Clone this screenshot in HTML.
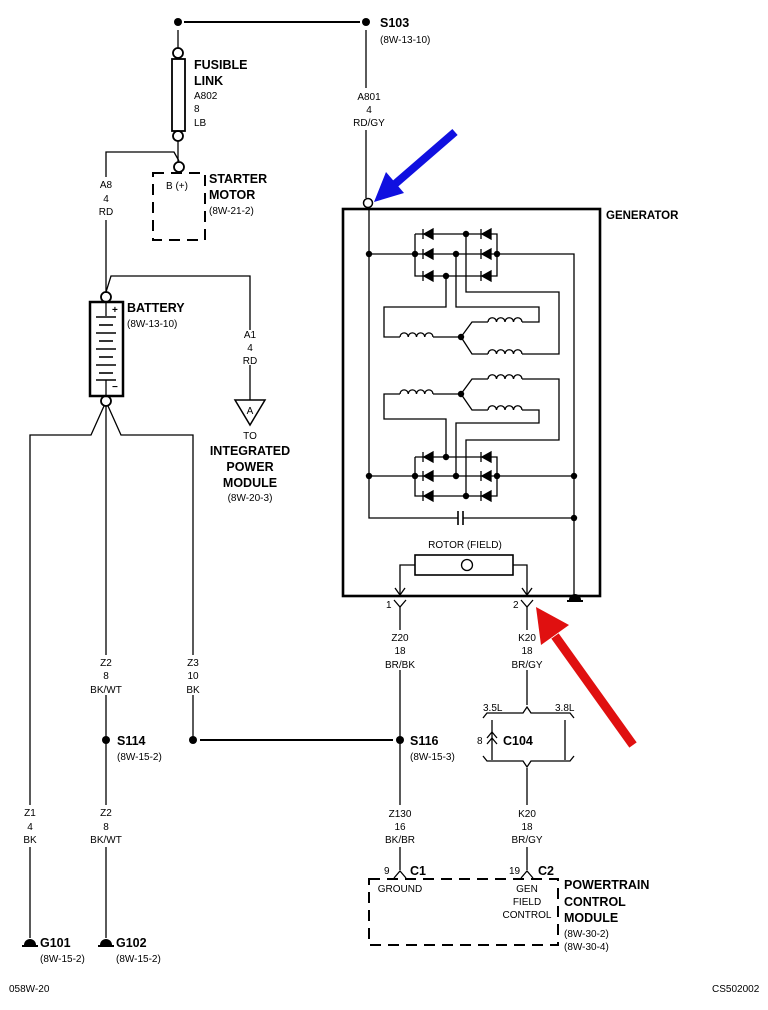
<!DOCTYPE html>
<html><head><meta charset="utf-8"><style>
html,body{margin:0;padding:0;background:#fff;}
svg{display:block;}
text{font-family:"Liberation Sans",sans-serif;fill:#000;}
.s{font-size:10px;}
.b{font-size:12.5px;font-weight:bold;}
.c{text-anchor:middle;}
</style></head><body>
<svg width="768" height="1010" viewBox="0 0 768 1010" xmlns="http://www.w3.org/2000/svg">
<g stroke="#000" stroke-width="1.3" fill="none">
<line x1="184" y1="22" x2="360" y2="22" stroke-width="2"/>
<line x1="178" y1="30" x2="178" y2="48"/>
<circle cx="178" cy="53" r="5" stroke-width="1.8"/>
<rect x="172" y="59" width="13" height="72" stroke-width="1.8"/>
<circle cx="178" cy="136" r="5" stroke-width="1.8"/>
<line x1="178" y1="141" x2="178" y2="162"/>
<polyline points="106,177 106,152 174,152 179,161"/>
<line x1="106" y1="220" x2="106" y2="293"/>
<circle cx="179" cy="167" r="5" stroke-width="1.8"/>
<rect x="153" y="173" width="52" height="67" stroke-width="2" stroke-dasharray="11,7"/>
<circle cx="106" cy="297" r="5" stroke-width="1.8"/>
<rect x="90" y="302" width="33" height="94" stroke-width="2.5"/>
<line x1="106" y1="302" x2="106" y2="316"/>
<line x1="106" y1="380" x2="106" y2="396"/>
<g stroke-width="1.6">
<line x1="96" y1="317" x2="116" y2="317"/>
<line x1="99" y1="325" x2="113" y2="325"/>
<line x1="96" y1="333" x2="116" y2="333"/>
<line x1="99" y1="341" x2="113" y2="341"/>
<line x1="96" y1="349" x2="116" y2="349"/>
<line x1="99" y1="357" x2="113" y2="357"/>
<line x1="96" y1="365" x2="116" y2="365"/>
<line x1="99" y1="373" x2="113" y2="373"/>
<line x1="96" y1="380" x2="116" y2="380"/>
</g>
<circle cx="106" cy="401" r="5" stroke-width="1.8"/>
<polyline points="106,292 111,276 250,276 250,330"/>
<line x1="250" y1="365" x2="250" y2="400"/>
<polygon points="235,400 265,400 250,425" stroke-width="1.5"/>
<polyline points="104,406 91,435 30,435 30,805"/>
<line x1="30" y1="847" x2="30" y2="938"/>
<polyline points="108,406 121,435 193,435 193,655"/>
<line x1="193" y1="695" x2="193" y2="740"/>
<line x1="106" y1="406" x2="106" y2="655"/>
<line x1="106" y1="695" x2="106" y2="805"/>
<line x1="106" y1="847" x2="106" y2="938"/>
<line x1="200" y1="740" x2="393" y2="740" stroke-width="2"/>
<line x1="366" y1="30" x2="366" y2="88"/>
<line x1="366" y1="130" x2="366" y2="198"/>
<circle cx="368" cy="203" r="4.5" stroke-width="1.5"/>
<rect x="343" y="209" width="257" height="387" stroke-width="2.6"/>
<polyline points="369,207 369,518 458,518"/>
<polyline points="463,518 574,518"/>
<line x1="458" y1="511" x2="458" y2="525" stroke-width="1.6"/>
<line x1="463" y1="511" x2="463" y2="525" stroke-width="1.6"/>
<polyline points="369,254 497,254"/>
<polyline points="497,254 574,254 574,600"/>
<polyline points="415,234 497,234 497,276 415,276 415,234"/>
<line x1="369" y1="476" x2="574" y2="476"/>
<polyline points="415,457 497,457 497,496 415,496 415,457"/>
<polyline points="446,276 446,307 384,307 384,337 400,337"/>
<polyline points="433,337 461,337 472,322 488,322"/>
<polyline points="461,337 472,354 488,354"/>
<polyline points="456,254 456,307 539,307 539,322 522,322"/>
<polyline points="466,234 466,292 559,292 559,354 522,354"/>
<path d="M400,337 a4.1,4.1 0 0 1 8.25,0 a4.1,4.1 0 0 1 8.25,0 a4.1,4.1 0 0 1 8.25,0 a4.1,4.1 0 0 1 8.25,0"/>
<path d="M488,322 a4.1,4.1 0 0 1 8.5,0 a4.1,4.1 0 0 1 8.5,0 a4.1,4.1 0 0 1 8.5,0 a4.1,4.1 0 0 1 8.5,0"/>
<path d="M488,354 a4.1,4.1 0 0 1 8.5,0 a4.1,4.1 0 0 1 8.5,0 a4.1,4.1 0 0 1 8.5,0 a4.1,4.1 0 0 1 8.5,0"/>
<polyline points="433,394 461,394 472,379 488,379"/>
<polyline points="461,394 472,410 488,410"/>
<polyline points="400,394 384,394 384,419 446,419 446,457"/>
<polyline points="522,379 559,379 559,440 466,440 466,496"/>
<polyline points="522,410 539,410 539,423 456,423 456,476"/>
<path d="M400,394 a4.1,4.1 0 0 1 8.25,0 a4.1,4.1 0 0 1 8.25,0 a4.1,4.1 0 0 1 8.25,0 a4.1,4.1 0 0 1 8.25,0"/>
<path d="M488,379 a4.1,4.1 0 0 1 8.5,0 a4.1,4.1 0 0 1 8.5,0 a4.1,4.1 0 0 1 8.5,0 a4.1,4.1 0 0 1 8.5,0"/>
<path d="M488,410 a4.1,4.1 0 0 1 8.5,0 a4.1,4.1 0 0 1 8.5,0 a4.1,4.1 0 0 1 8.5,0 a4.1,4.1 0 0 1 8.5,0"/>
<rect x="415" y="555" width="98" height="20" stroke-width="1.6"/>
<circle cx="467" cy="565" r="5.5"/>
<polyline points="415,565 400,565 400,596"/>
<polyline points="513,565 527,565 527,596"/>
<polyline points="395,588 400,595 405,588"/>
<polyline points="522,588 527,595 532,588"/>
<polyline points="394,600 400,607 406,600"/>
<polyline points="521,600 527,607 533,600"/>
<line x1="400" y1="607" x2="400" y2="630"/>
<line x1="400" y1="670" x2="400" y2="805"/>
<line x1="400" y1="847" x2="400" y2="870"/>
<line x1="527" y1="607" x2="527" y2="630"/>
<line x1="527" y1="670" x2="527" y2="705"/>
<path d="M483,718 L487,713 L523,713 L527,707 L531,713 L570,713 L574,718"/>
<line x1="492" y1="720" x2="492" y2="760"/>
<line x1="565" y1="720" x2="565" y2="760"/>
<polyline points="487,738 492,732 497,738"/>
<polyline points="487,744 492,738 497,744"/>
<path d="M483,756 L487,761 L523,761 L527,767 L531,761 L570,761 L574,756"/>
<line x1="527" y1="768" x2="527" y2="805"/>
<line x1="527" y1="847" x2="527" y2="870"/>
<polyline points="394,878 400,871 406,878"/>
<polyline points="521,878 527,871 533,878"/>
<rect x="369" y="879" width="189" height="66" stroke-width="2" stroke-dasharray="11,7"/>
<line x1="22" y1="946" x2="38" y2="946" stroke-width="2"/>
<line x1="98" y1="946" x2="114" y2="946" stroke-width="2"/>
<line x1="567" y1="601" x2="583" y2="601" stroke-width="2"/>
</g>
<g fill="#000">
<circle cx="178" cy="22" r="4"/>
<circle cx="366" cy="22" r="4"/>
<circle cx="106" cy="740" r="4"/>
<circle cx="193" cy="740" r="4"/>
<circle cx="400" cy="740" r="4"/>
<path d="M24,945 a6,6 0 0 1 12,0 z"/>
<path d="M100,945 a6,6 0 0 1 12,0 z"/>
<path d="M569,600 a6,6 0 0 1 12,0 z"/>
<circle cx="369" cy="254" r="3.2"/><circle cx="415" cy="254" r="3.2"/><circle cx="456" cy="254" r="3.2"/><circle cx="497" cy="254" r="3.2"/>
<circle cx="466" cy="234" r="3.2"/><circle cx="446" cy="276" r="3.2"/>
<circle cx="461" cy="337" r="3.2"/><circle cx="461" cy="394" r="3.2"/>
<circle cx="446" cy="457" r="3.2"/><circle cx="369" cy="476" r="3.2"/><circle cx="415" cy="476" r="3.2"/><circle cx="456" cy="476" r="3.2"/><circle cx="497" cy="476" r="3.2"/><circle cx="574" cy="476" r="3.2"/>
<circle cx="466" cy="496" r="3.2"/><circle cx="574" cy="518" r="3.2"/>
</g>
<g fill="#000" stroke="#000" stroke-width="1.3">
<g id="d"><polygon points="433,229 433,239 424,234"/><line x1="423" y1="229" x2="423" y2="239"/></g>
<use href="#d" x="58"/>
<use href="#d" y="20"/><use href="#d" x="58" y="20"/>
<use href="#d" y="42"/><use href="#d" x="58" y="42"/>
<use href="#d" y="223"/><use href="#d" x="58" y="223"/>
<use href="#d" y="242"/><use href="#d" x="58" y="242"/>
<use href="#d" y="262"/><use href="#d" x="58" y="262"/>
</g>
<line x1="455" y1="132" x2="395" y2="184" stroke="#1010e0" stroke-width="8"/>
<polygon points="374,202 386,172 404,193" fill="#1010e0"/>
<line x1="633" y1="745" x2="555" y2="636" stroke="#e01010" stroke-width="9"/>
<polygon points="536,607 541,645 569,625" fill="#e01010"/>
<text x="380" y="27" class="b">S103</text>
<text x="380" y="43" class="s">(8W-13-10)</text>
<text x="194" y="69" class="b">FUSIBLE</text>
<text x="194" y="85" class="b">LINK</text>
<text x="194" y="99" class="s">A802</text>
<text x="194" y="112" class="s">8</text>
<text x="194" y="126" class="s">LB</text>
<text x="166" y="189" class="s">B (+)</text>
<text x="209" y="183" class="b">STARTER</text>
<text x="209" y="199" class="b">MOTOR</text>
<text x="209" y="214" class="s">(8W-21-2)</text>
<text x="106" y="188" class="s c">A8</text>
<text x="106" y="202" class="s c">4</text>
<text x="106" y="215" class="s c">RD</text>
<text x="127" y="312" class="b">BATTERY</text>
<text x="127" y="327" class="s">(8W-13-10)</text>
<text x="112" y="313" style="font-size:10px;font-weight:bold">+</text>
<text x="112" y="390" style="font-size:10px;font-weight:bold">−</text>
<text x="250" y="338" class="s c">A1</text>
<text x="250" y="351" class="s c">4</text>
<text x="250" y="364" class="s c">RD</text>
<text x="250" y="414" class="s c">A</text>
<text x="250" y="439" class="s c">TO</text>
<text x="250" y="455" class="b c">INTEGRATED</text>
<text x="250" y="471" class="b c">POWER</text>
<text x="250" y="487" class="b c">MODULE</text>
<text x="250" y="501" class="s c">(8W-20-3)</text>
<text x="369" y="100" class="s c">A801</text>
<text x="369" y="113" class="s c">4</text>
<text x="369" y="126" class="s c">RD/GY</text>
<text x="606" y="219" class="b" style="font-size:11.5px">GENERATOR</text>
<text x="465" y="548" class="s c">ROTOR (FIELD)</text>
<text x="386" y="608" class="s">1</text>
<text x="513" y="608" class="s">2</text>
<text x="400" y="641" class="s c">Z20</text>
<text x="400" y="654" class="s c">18</text>
<text x="400" y="668" class="s c">BR/BK</text>
<text x="527" y="641" class="s c">K20</text>
<text x="527" y="654" class="s c">18</text>
<text x="527" y="668" class="s c">BR/GY</text>
<text x="193" y="666" class="s c">Z3</text>
<text x="193" y="679" class="s c">10</text>
<text x="193" y="693" class="s c">BK</text>
<text x="106" y="666" class="s c">Z2</text>
<text x="106" y="679" class="s c">8</text>
<text x="106" y="693" class="s c">BK/WT</text>
<text x="117" y="745" class="b">S114</text>
<text x="117" y="760" class="s">(8W-15-2)</text>
<text x="410" y="745" class="b">S116</text>
<text x="410" y="760" class="s">(8W-15-3)</text>
<text x="483" y="711" class="s">3.5L</text>
<text x="555" y="711" class="s">3.8L</text>
<text x="477" y="744" class="s">8</text>
<text x="503" y="745" class="b">C104</text>
<text x="30" y="816" class="s c">Z1</text>
<text x="30" y="830" class="s c">4</text>
<text x="30" y="843" class="s c">BK</text>
<text x="106" y="816" class="s c">Z2</text>
<text x="106" y="830" class="s c">8</text>
<text x="106" y="843" class="s c">BK/WT</text>
<text x="400" y="817" class="s c">Z130</text>
<text x="400" y="830" class="s c">16</text>
<text x="400" y="843" class="s c">BK/BR</text>
<text x="527" y="817" class="s c">K20</text>
<text x="527" y="830" class="s c">18</text>
<text x="527" y="843" class="s c">BR/GY</text>
<text x="384" y="874" class="s">9</text>
<text x="410" y="875" class="b">C1</text>
<text x="509" y="874" class="s">19</text>
<text x="538" y="875" class="b">C2</text>
<text x="400" y="892" class="s c">GROUND</text>
<text x="527" y="892" class="s c">GEN</text>
<text x="527" y="905" class="s c">FIELD</text>
<text x="527" y="918" class="s c">CONTROL</text>
<text x="564" y="889" class="b">POWERTRAIN</text>
<text x="564" y="906" class="b">CONTROL</text>
<text x="564" y="922" class="b">MODULE</text>
<text x="564" y="937" class="s">(8W-30-2)</text>
<text x="564" y="950" class="s">(8W-30-4)</text>
<text x="40" y="947" class="b">G101</text>
<text x="40" y="962" class="s">(8W-15-2)</text>
<text x="116" y="947" class="b">G102</text>
<text x="116" y="962" class="s">(8W-15-2)</text>
<text x="9" y="992" class="s">058W-20</text>
<text x="712" y="992" class="s">CS502002</text>
</svg>
</body></html>
